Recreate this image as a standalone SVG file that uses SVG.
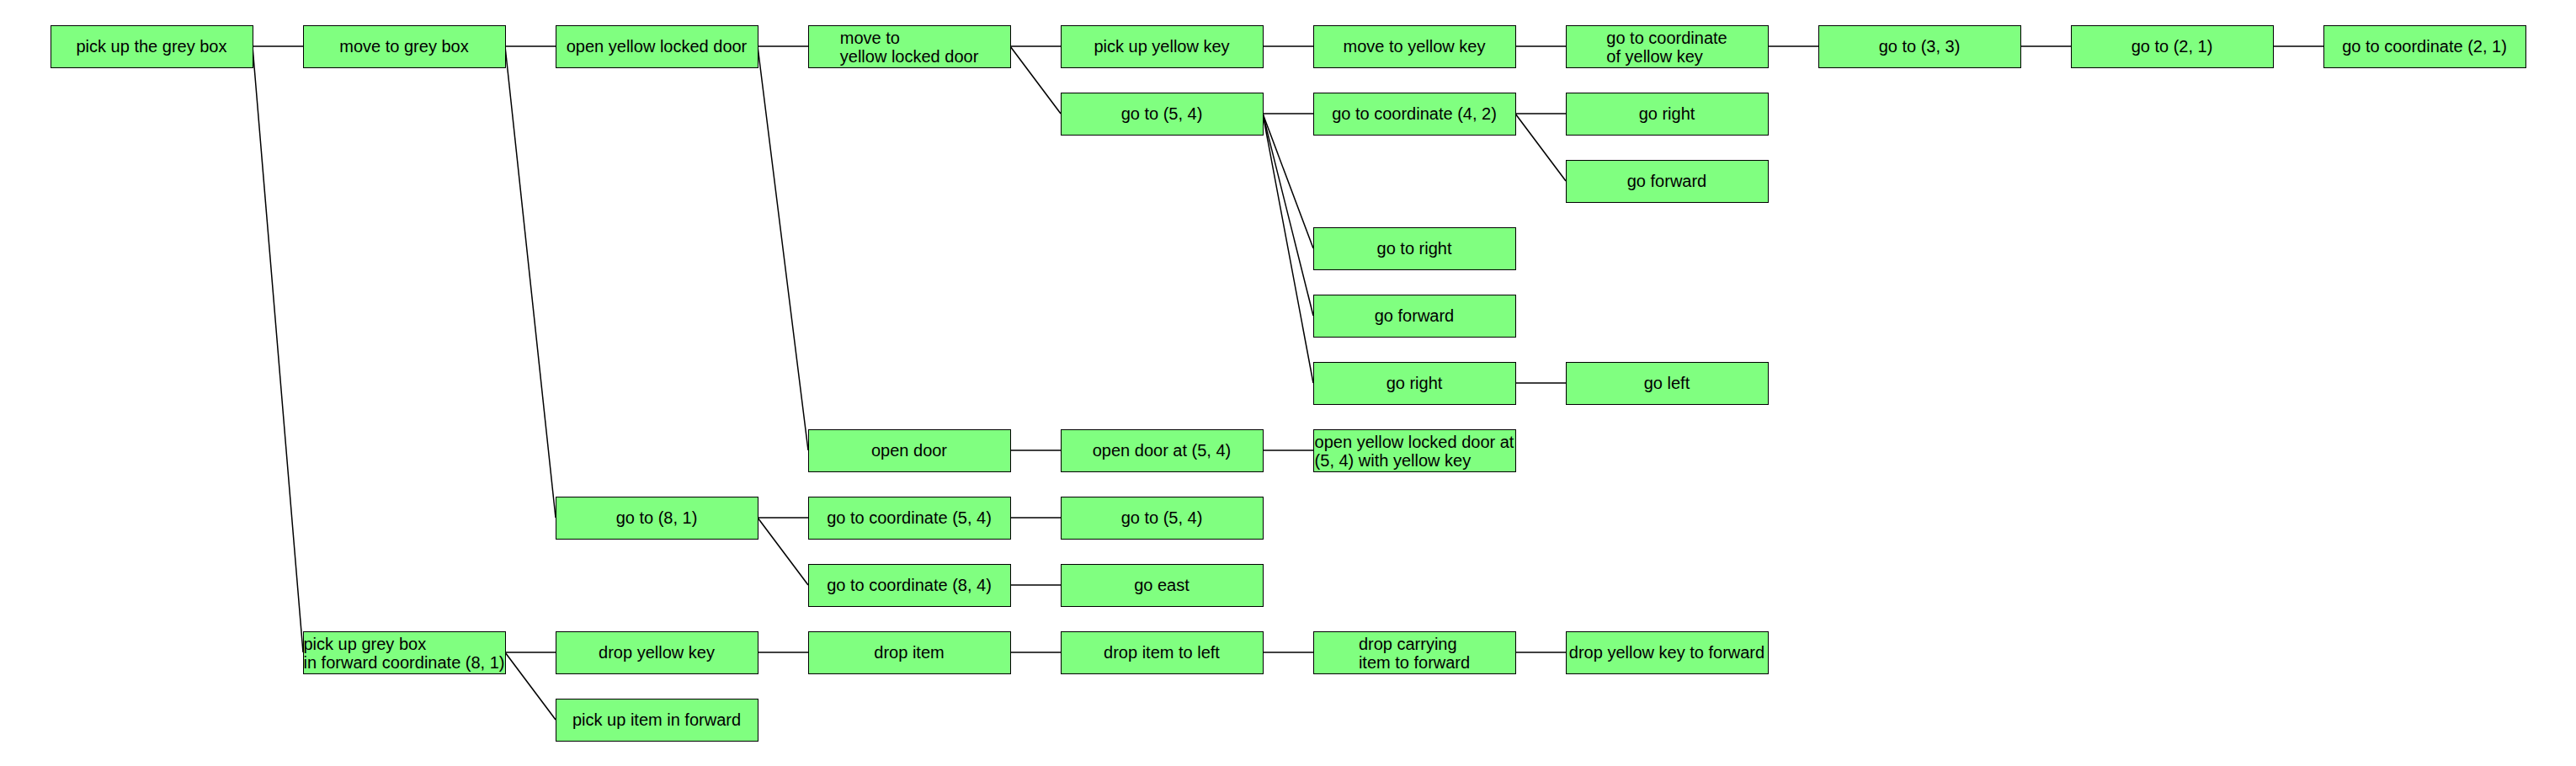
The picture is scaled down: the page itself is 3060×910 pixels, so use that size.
<svg xmlns="http://www.w3.org/2000/svg" width="3060" height="910" viewBox="0 0 3060 910">
<style>
.b rect{fill:#80ff80;stroke:#000;stroke-width:1}
.b text{font-family:"Liberation Sans",Arial,sans-serif;font-size:20px;fill:#000}
.c{text-anchor:middle}
#edges line{stroke:#000;stroke-width:1.5}
</style>
<rect width="3060" height="910" fill="#fff"/>
<g id="edges">
<line x1="300" y1="55" x2="360" y2="55"/>
<line x1="300" y1="55" x2="360" y2="775"/>
<line x1="600" y1="55" x2="660" y2="55"/>
<line x1="600" y1="55" x2="660" y2="615"/>
<line x1="900" y1="55" x2="960" y2="55"/>
<line x1="900" y1="55" x2="960" y2="535"/>
<line x1="1200" y1="55" x2="1260" y2="55"/>
<line x1="1200" y1="55" x2="1260" y2="135"/>
<line x1="1500" y1="55" x2="1560" y2="55"/>
<line x1="1800" y1="55" x2="1860" y2="55"/>
<line x1="2100" y1="55" x2="2160" y2="55"/>
<line x1="2400" y1="55" x2="2460" y2="55"/>
<line x1="2700" y1="55" x2="2760" y2="55"/>
<line x1="1500" y1="135" x2="1560" y2="135"/>
<line x1="1500" y1="135" x2="1560" y2="295"/>
<line x1="1500" y1="135" x2="1560" y2="375"/>
<line x1="1500" y1="135" x2="1560" y2="455"/>
<line x1="1800" y1="135" x2="1860" y2="135"/>
<line x1="1800" y1="135" x2="1860" y2="215"/>
<line x1="1800" y1="455" x2="1860" y2="455"/>
<line x1="1200" y1="535" x2="1260" y2="535"/>
<line x1="1500" y1="535" x2="1560" y2="535"/>
<line x1="900" y1="615" x2="960" y2="615"/>
<line x1="900" y1="615" x2="960" y2="695"/>
<line x1="1200" y1="615" x2="1260" y2="615"/>
<line x1="1200" y1="695" x2="1260" y2="695"/>
<line x1="600" y1="775" x2="660" y2="775"/>
<line x1="600" y1="775" x2="660" y2="855"/>
<line x1="900" y1="775" x2="960" y2="775"/>
<line x1="1200" y1="775" x2="1260" y2="775"/>
<line x1="1500" y1="775" x2="1560" y2="775"/>
<line x1="1800" y1="775" x2="1860" y2="775"/>
</g>
<g id="n0" class="b"><rect x="60.5" y="30.5" width="240" height="50"/><text class="c" x="180" y="62">pick up the grey box</text></g>
<g id="n1" class="b"><rect x="360.5" y="30.5" width="240" height="50"/><text class="c" x="480" y="62">move to grey box</text></g>
<g id="n2" class="b"><rect x="660.5" y="30.5" width="240" height="50"/><text class="c" x="780" y="62">open yellow locked door</text></g>
<g id="n3" class="b"><rect x="960.5" y="30.5" width="240" height="50"/><text x="997.8" y="51.5"><tspan x="997.8">move to</tspan><tspan x="997.8" y="73.5">yellow locked door</tspan></text></g>
<g id="n4" class="b"><rect x="1260.5" y="30.5" width="240" height="50"/><text class="c" x="1380" y="62">pick up yellow key</text></g>
<g id="n5" class="b"><rect x="1560.5" y="30.5" width="240" height="50"/><text class="c" x="1680" y="62">move to yellow key</text></g>
<g id="n6" class="b"><rect x="1860.5" y="30.5" width="240" height="50"/><text x="1908.3" y="51.5"><tspan x="1908.3">go to coordinate</tspan><tspan x="1908.3" y="73.5">of yellow key</tspan></text></g>
<g id="n7" class="b"><rect x="2160.5" y="30.5" width="240" height="50"/><text class="c" x="2280" y="62">go to (3, 3)</text></g>
<g id="n8" class="b"><rect x="2460.5" y="30.5" width="240" height="50"/><text class="c" x="2580" y="62">go to (2, 1)</text></g>
<g id="n9" class="b"><rect x="2760.5" y="30.5" width="240" height="50"/><text class="c" x="2880" y="62">go to coordinate (2, 1)</text></g>
<g id="n10" class="b"><rect x="1260.5" y="110.5" width="240" height="50"/><text class="c" x="1380" y="142">go to (5, 4)</text></g>
<g id="n11" class="b"><rect x="1560.5" y="110.5" width="240" height="50"/><text class="c" x="1680" y="142">go to coordinate (4, 2)</text></g>
<g id="n12" class="b"><rect x="1860.5" y="110.5" width="240" height="50"/><text class="c" x="1980" y="142">go right</text></g>
<g id="n13" class="b"><rect x="1860.5" y="190.5" width="240" height="50"/><text class="c" x="1980" y="222">go forward</text></g>
<g id="n14" class="b"><rect x="1560.5" y="270.5" width="240" height="50"/><text class="c" x="1680" y="302">go to right</text></g>
<g id="n15" class="b"><rect x="1560.5" y="350.5" width="240" height="50"/><text class="c" x="1680" y="382">go forward</text></g>
<g id="n16" class="b"><rect x="1560.5" y="430.5" width="240" height="50"/><text class="c" x="1680" y="462">go right</text></g>
<g id="n17" class="b"><rect x="1860.5" y="430.5" width="240" height="50"/><text class="c" x="1980" y="462">go left</text></g>
<g id="n18" class="b"><rect x="960.5" y="510.5" width="240" height="50"/><text class="c" x="1080" y="542">open door</text></g>
<g id="n19" class="b"><rect x="1260.5" y="510.5" width="240" height="50"/><text class="c" x="1380" y="542">open door at (5, 4)</text></g>
<g id="n20" class="b"><rect x="1560.5" y="510.5" width="240" height="50"/><text x="1561.6" y="531.5"><tspan x="1561.6">open yellow locked door at</tspan><tspan x="1561.6" y="553.5">(5, 4) with yellow key</tspan></text></g>
<g id="n21" class="b"><rect x="660.5" y="590.5" width="240" height="50"/><text class="c" x="780" y="622">go to (8, 1)</text></g>
<g id="n22" class="b"><rect x="960.5" y="590.5" width="240" height="50"/><text class="c" x="1080" y="622">go to coordinate (5, 4)</text></g>
<g id="n23" class="b"><rect x="1260.5" y="590.5" width="240" height="50"/><text class="c" x="1380" y="622">go to (5, 4)</text></g>
<g id="n24" class="b"><rect x="960.5" y="670.5" width="240" height="50"/><text class="c" x="1080" y="702">go to coordinate (8, 4)</text></g>
<g id="n25" class="b"><rect x="1260.5" y="670.5" width="240" height="50"/><text class="c" x="1380" y="702">go east</text></g>
<g id="n26" class="b"><rect x="360.5" y="750.5" width="240" height="50"/><text x="360.5" y="771.5"><tspan x="360.5">pick up grey box</tspan><tspan x="360.5" y="793.5">in forward coordinate (8, 1)</tspan></text></g>
<g id="n27" class="b"><rect x="660.5" y="750.5" width="240" height="50"/><text class="c" x="780" y="782">drop yellow key</text></g>
<g id="n28" class="b"><rect x="960.5" y="750.5" width="240" height="50"/><text class="c" x="1080" y="782">drop item</text></g>
<g id="n29" class="b"><rect x="1260.5" y="750.5" width="240" height="50"/><text class="c" x="1380" y="782">drop item to left</text></g>
<g id="n30" class="b"><rect x="1560.5" y="750.5" width="240" height="50"/><text x="1613.9" y="771.5"><tspan x="1613.9">drop carrying</tspan><tspan x="1613.9" y="793.5">item to forward</tspan></text></g>
<g id="n31" class="b"><rect x="1860.5" y="750.5" width="240" height="50"/><text class="c" x="1980" y="782">drop yellow key to forward</text></g>
<g id="n32" class="b"><rect x="660.5" y="830.5" width="240" height="50"/><text class="c" x="780" y="862">pick up item in forward</text></g>
</svg>
